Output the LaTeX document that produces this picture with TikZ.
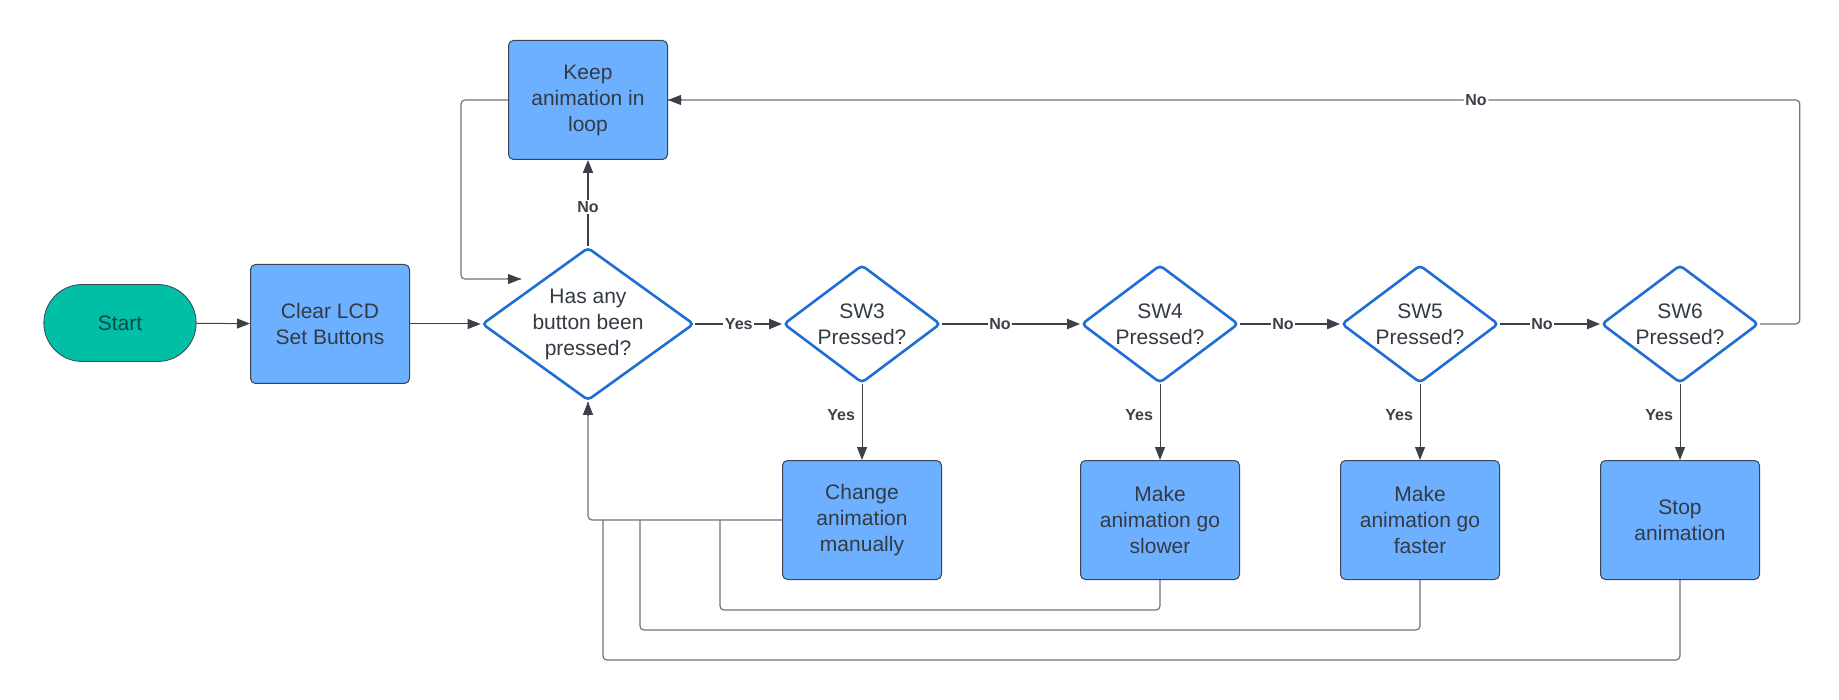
\documentclass[tikz,border=0pt]{standalone}
\usepackage{fontspec}
\setmainfont{Liberation Sans}
\usetikzlibrary{shapes.geometric,shapes.misc,arrows.meta,calc}
\definecolor{boxfill}{HTML}{6DB0FF}
\definecolor{boxdraw}{HTML}{3A4350}
\definecolor{dblue}{HTML}{1F6ED4}
\definecolor{teal}{HTML}{00BFA6}
\definecolor{txt}{HTML}{333A44}
\definecolor{ln}{HTML}{3B4049}
\definecolor{gr}{HTML}{6E7379}
\begin{document}
\begin{tikzpicture}[x=1pt,y=-1pt,
  every node/.style={font=\fontsize{21}{26}\selectfont, text=txt, align=center},
  procbox/.style={rectangle, rounded corners=5pt, fill=boxfill, draw=boxdraw, line width=1pt,
    minimum width=159pt, minimum height=119pt, inner sep=0pt},
  decis/.style={diamond, draw=dblue, fill=white, line width=2.6pt, rounded corners=4pt,
    inner sep=0pt, aspect=1.35},
  startnode/.style={rounded rectangle, fill=teal, draw=boxdraw, line width=0.8pt,
    minimum width=159pt, minimum height=77pt, text=teal!40!black},
  tip/.style={-{Triangle[length=13pt,width=10pt]}},
  thickln/.style={draw=ln, line width=2pt, tip},
  thinln/.style={draw=ln, line width=1pt, tip},
  retln/.style={draw=gr, line width=1.2pt, rounded corners=4pt},
  lbl/.style={font=\bfseries\fontsize{16}{19}\selectfont, text=ln, fill=white, inner sep=1.5pt},
]
\useasboundingbox (0,0) rectangle (1839,700);

\node[startnode] (start) at (120,323) {Start};
\node[procbox] (clr) at (330,324) {Clear LCD\\Set Buttons};
\node[procbox] (keep) at (588,100) {Keep\\animation in\\loop};
\node[decis, minimum width=212pt, minimum height=152pt] (has) at (588,324) {Has any\\button been\\pressed?};
\node[decis, minimum width=157pt, minimum height=118pt] (sw3) at (862,324) {SW3\\Pressed?};
\node[decis, minimum width=157pt, minimum height=118pt] (sw4) at (1160,324) {SW4\\Pressed?};
\node[decis, minimum width=157pt, minimum height=118pt] (sw5) at (1420,324) {SW5\\Pressed?};
\node[decis, minimum width=157pt, minimum height=118pt] (sw6) at (1680,324) {SW6\\Pressed?};
\node[procbox] (chg) at (862,520) {Change\\animation\\manually};
\node[procbox] (slow) at (1160,520) {Make\\animation go\\slower};
\node[procbox] (fast) at (1420,520) {Make\\animation go\\faster};
\node[procbox] (stop) at (1680,520) {Stop\\animation};

\coordinate (kin) at (521,279);
\coordinate (j1) at (720,520);
\coordinate (j2) at (640,520);
\coordinate (j3) at (603,520);

% main flow
\draw[thinln] (start) -- (clr);
\draw[thinln] (clr) -- (has.west);
\draw[thickln] (has.north) -- node[lbl, pos=0.45]{No} (keep.south);
\draw[thickln] (has.east) -- node[lbl, pos=0.5]{Yes} (sw3.west);
\draw[thickln] (sw3.east) -- node[lbl, pos=0.42]{No} (sw4.west);
\draw[thickln] (sw4.east) -- node[lbl, pos=0.43]{No} (sw5.west);
\draw[thickln] (sw5.east) -- node[lbl, pos=0.42]{No} (sw6.west);

% yes branches
\draw[thinln] (sw3.south) -- node[lbl, pos=0.4, left=5pt]{Yes} (chg.north);
\draw[thinln] (sw4.south) -- node[lbl, pos=0.4, left=5pt]{Yes} (slow.north);
\draw[thinln] (sw5.south) -- node[lbl, pos=0.4, left=5pt]{Yes} (fast.north);
\draw[thinln] (sw6.south) -- node[lbl, pos=0.4, left=5pt]{Yes} (stop.north);

% top no loop
\draw[retln] (sw6.east) -- ++(40,0) |- node[lbl, pos=0.643]{No} (keep.east);
\draw[ln, line width=1pt, tip] ($(keep.east)+(14,0)$) -- (keep.east);

% keep loop back
\draw[retln] (keep.west) -- ++(-47,0) |- (kin);
\draw[ln, line width=1pt, tip] ($(kin)+(-14,0)$) -- (kin);

% returns
\draw[retln] (chg.west) -| (has.south);
\draw[ln, line width=1pt, tip] ($(has.south)+(0,14)$) -- (has.south);
\draw[retln] (slow.south) -- ++(0,30) -| (j1);
\draw[retln] (fast.south) -- ++(0,50) -| (j2);
\draw[retln] (stop.south) -- ++(0,80) -| (j3);
\end{tikzpicture}
\end{document}
